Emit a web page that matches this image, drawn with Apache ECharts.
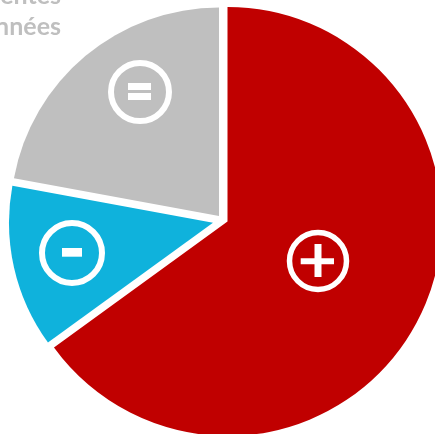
<!DOCTYPE html>
<html><head><meta charset="utf-8">
<style>html,body{margin:0;padding:0;background:#fff}#c{width:435px;height:434px}</style>
<script src="https://cdn.jsdelivr.net/npm/echarts@6/dist/echarts.min.js"></script>
</head><body><div id="c"></div>
<script>
const categories = ['+', '-', '='];
const values = [65, 12.9, 22.1];
const colors = ['#C00000', '#0FB2DC', '#BFBFBF'];
const captionLines = ['entes', 'nnées'];

const geometry = [
  {center: [227.5, 221.5], radius: 214.5},
  {center: [213, 222.7], radius: 204},
  {center: [219, 216], radius: 208.5}
];
const series = geometry.map((g, i) => ({
  type: 'pie', center: g.center, radius: [0, g.radius], startAngle: 90,
  silent: true, animation: false, label: {show: false}, labelLine: {show: false},
  data: categories.map((name, j) => ({
    name, value: values[j],
    itemStyle: {color: j === i ? colors[j] : 'transparent'}
  }))
}));
const ring = (cx, cy, r, lw) => ({type: 'circle', shape: {cx, cy, r}, style: {fill: 'transparent', stroke: '#fff', lineWidth: lw}, z: 10});
const bar = (x, y, width, height) => ({type: 'rect', shape: {x, y, width, height}, style: {fill: '#fff'}, z: 10});
const chart = echarts.init(document.getElementById('c'), null, {renderer: 'canvas'});
chart.setOption({
  backgroundColor: '#fff',
  series,
  graphic: [
    ring(140, 92, 29, 6), bar(128, 83, 23, 7), bar(128, 93, 23, 7),
    ring(72, 253, 30, 6), bar(62, 248, 20, 8.7),
    ring(318, 261, 28.5, 5.5), bar(300.7, 258.3, 33.3, 6), bar(314.5, 244, 7, 33),
    {type: 'text', z: 10, style: {text: captionLines[0], x: 61, y: -17, align: 'right', verticalAlign: 'top', fill: '#BFBFBF', font: 'bold 25px Lato'}},
    {type: 'text', z: 10, style: {text: captionLines[1], x: 61, y: 14, align: 'right', verticalAlign: 'top', fill: '#BFBFBF', font: 'bold 25px Lato'}}
  ]
});
</script></body></html>
